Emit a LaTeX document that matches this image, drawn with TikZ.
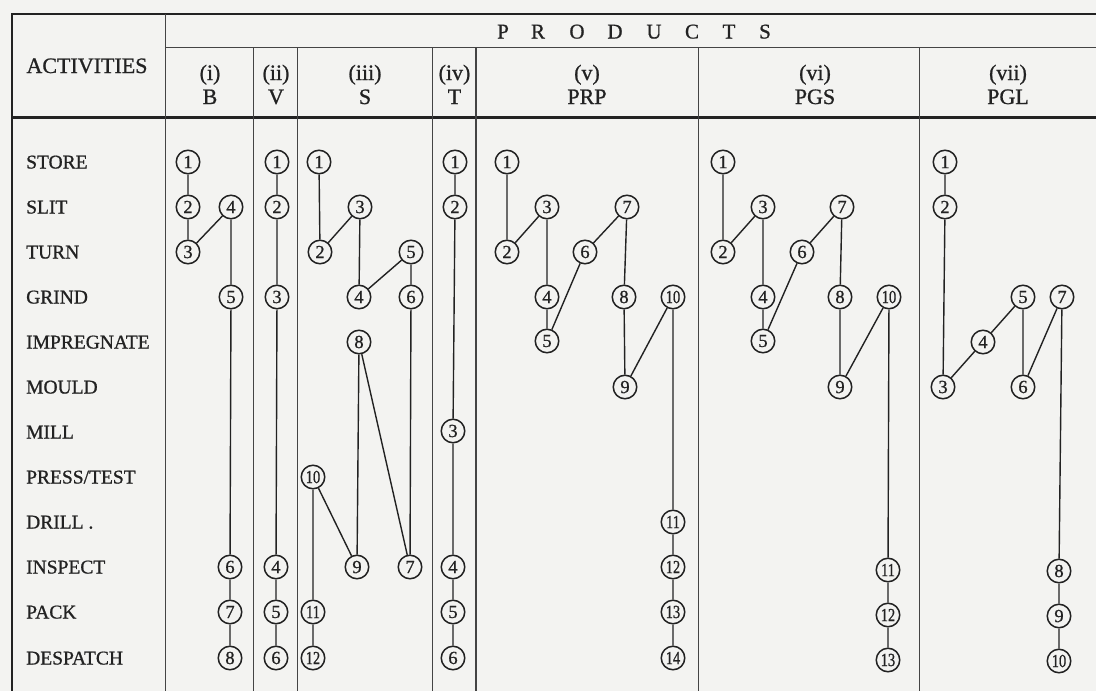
\documentclass[tikz,border=0pt]{standalone}
\usepackage{fontspec}
\usepackage{graphicx}
\setmainfont{Liberation Serif}[BoldFont={Liberation Serif},BoldFeatures={FakeBold=0.9}]
\definecolor{ink}{HTML}{222222}
\definecolor{rulec}{HTML}{444444}
\definecolor{bgc}{HTML}{F3F3F1}
\newcommand\twodig[1]{\scalebox{0.78}[1]{#1}}
\begin{document}
\begin{tikzpicture}[x=1pt,y=-1pt,
  num/.style={circle,draw=ink,line width=1.5pt,inner sep=0pt,minimum size=23.5pt,font=\fontsize{18.5}{18.5}\selectfont\bfseries,text=ink},
  conn/.style={draw=ink,line width=1.4pt},
  rowlab/.style={anchor=base west,font=\fontsize{19.5}{20}\selectfont\bfseries,text=ink,inner sep=0pt},
  hdr/.style={anchor=base,font=\fontsize{22}{23}\selectfont\bfseries,text=ink,inner sep=0pt},
  gridline/.style={draw=rulec,line width=1.3pt},
  thickline/.style={draw=ink,line width=2.4pt}]
\useasboundingbox (0,0) rectangle (1096,691);
\fill[bgc] (0,0) rectangle (1096,691);
% ---- table rules ----
\draw[thickline] (11.7,14) -- (1096,14);
\draw[thickline] (11.7,13) -- (11.7,691);
\draw[gridline,line width=1.6pt] (165.5,47.5) -- (1096,47.5);
\draw[draw=ink,line width=3.2pt] (11.7,117.5) -- (1096,117.5);
\draw[gridline,line width=1.5pt] (165.5,14) -- (165.5,691);
\foreach \cx in {253.5,297.5,432.5,476,698.5,919.5}
  \draw[gridline] (\cx,47.5) -- (\cx,691);
% ---- header ----
\node[anchor=base,font=\fontsize{22}{22}\selectfont\bfseries,text=ink,inner sep=0pt] (act) at (87,73) {ACTIVITIES};
\foreach \ch/\cx in {P/503,R/538,O/577,D/615,U/654,C/692,T/729,S/765}
  \node[hdr,font=\fontsize{21}{21}\selectfont\bfseries] (prod\ch) at (\cx,38.5) {\ch};
\node[hdr] (h1a) at (210,80) {(i)};   \node[hdr] (h1b) at (210,104) {B};
\node[hdr] (h2a) at (276,80) {(ii)};  \node[hdr] (h2b) at (276,104) {V};
\node[hdr] (h3a) at (365,80) {(iii)}; \node[hdr] (h3b) at (365,104) {S};
\node[hdr] (h4a) at (454.5,80) {(iv)}; \node[hdr] (h4b) at (454.5,104) {T};
\node[hdr] (h5a) at (587,80) {(v)};   \node[hdr] (h5b) at (587,104) {PRP};
\node[hdr] (h6a) at (815,80) {(vi)};  \node[hdr] (h6b) at (815,104) {PGS};
\node[hdr] (h7a) at (1008,80) {(vii)}; \node[hdr] (h7b) at (1008,104) {PGL};
% ---- row labels ----
\foreach \lab/\ry [count=\i] in {STORE/162,SLIT/207,TURN/252,GRIND/297,IMPREGNATE/342,MOULD/387,MILL/432,{PRESS/TEST}/477,{DRILL .}/522,INSPECT/567,PACK/612,DESPATCH/658}
  \node[rowlab] (row\i) at (26,\ry+6.5) {\lab};
% ---- (i) B ----
\node[num] (B1) at (188,162) {1};
\node[num] (B2) at (188,207) {2};
\node[num] (B3) at (188,252) {3};
\node[num] (B4) at (231,207) {4};
\node[num] (B5) at (231,297) {5};
\node[num] (B6) at (230,567) {6};
\node[num] (B7) at (230,612) {7};
\node[num] (B8) at (230,658) {8};
\draw[conn] (B1)--(B2) (B2)--(B3) (B3)--(B4) (B4)--(B5) (B5)--(B6) (B6)--(B7) (B7)--(B8);
% ---- (ii) V ----
\node[num] (V1) at (277,162) {1};
\node[num] (V2) at (277,207) {2};
\node[num] (V3) at (277,297) {3};
\node[num] (V4) at (276,567) {4};
\node[num] (V5) at (276,612) {5};
\node[num] (V6) at (276,658) {6};
\draw[conn] (V1)--(V2) (V2)--(V3) (V3)--(V4) (V4)--(V5) (V5)--(V6);
% ---- (iii) S ----
\node[num] (S1) at (319,162) {1};
\node[num] (S2) at (320,252) {2};
\node[num] (S3) at (360,207) {3};
\node[num] (S4) at (359,297) {4};
\node[num] (S5) at (411,252) {5};
\node[num] (S6) at (411,297) {6};
\node[num] (S7) at (410,567) {7};
\node[num] (S8) at (359,342) {8};
\node[num] (S9) at (357,567) {9};
\node[num] (S10) at (313,477) {\twodig{10}};
\node[num] (S11) at (313,612) {\twodig{11}};
\node[num] (S12) at (313,658) {\twodig{12}};
\draw[conn] (S1)--(S2) (S2)--(S3) (S3)--(S4) (S4)--(S5) (S5)--(S6) (S6)--(S7) (S7)--(S8) (S8)--(S9) (S9)--(S10) (S10)--(S11) (S11)--(S12);
% ---- (iv) T ----
\node[num] (T1) at (455,162) {1};
\node[num] (T2) at (455,207) {2};
\node[num] (T3) at (453,431) {3};
\node[num] (T4) at (453,567) {4};
\node[num] (T5) at (453,612) {5};
\node[num] (T6) at (453,658) {6};
\draw[conn] (T1)--(T2) (T2)--(T3) (T3)--(T4) (T4)--(T5) (T5)--(T6);
% ---- (v) PRP ----
\node[num] (P1) at (507,162) {1};
\node[num] (P2) at (507,252) {2};
\node[num] (P3) at (547,207) {3};
\node[num] (P4) at (547,297) {4};
\node[num] (P5) at (547,341) {5};
\node[num] (P6) at (585,252) {6};
\node[num] (P7) at (627,207) {7};
\node[num] (P8) at (624,297) {8};
\node[num] (P9) at (625,387) {9};
\node[num] (P10) at (673,297) {\twodig{10}};
\node[num] (P11) at (673,522) {\twodig{11}};
\node[num] (P12) at (673,567) {\twodig{12}};
\node[num] (P13) at (673,612) {\twodig{13}};
\node[num] (P14) at (673,658) {\twodig{14}};
\draw[conn] (P1)--(P2) (P2)--(P3) (P3)--(P4) (P4)--(P5) (P5)--(P6) (P6)--(P7) (P7)--(P8) (P8)--(P9) (P9)--(P10) (P10)--(P11) (P11)--(P12) (P12)--(P13) (P13)--(P14);
% ---- (vi) PGS ----
\node[num] (G1) at (723,162) {1};
\node[num] (G2) at (723,252) {2};
\node[num] (G3) at (763,207) {3};
\node[num] (G4) at (763,297) {4};
\node[num] (G5) at (763,341) {5};
\node[num] (G6) at (802,252) {6};
\node[num] (G7) at (842,207) {7};
\node[num] (G8) at (840,297) {8};
\node[num] (G9) at (840,387) {9};
\node[num] (G10) at (889,297) {\twodig{10}};
\node[num] (G11) at (888,570) {\twodig{11}};
\node[num] (G12) at (888,615) {\twodig{12}};
\node[num] (G13) at (888,660) {\twodig{13}};
\draw[conn] (G1)--(G2) (G2)--(G3) (G3)--(G4) (G4)--(G5) (G5)--(G6) (G6)--(G7) (G7)--(G8) (G8)--(G9) (G9)--(G10) (G10)--(G11) (G11)--(G12) (G12)--(G13);
% ---- (vii) PGL ----
\node[num] (L1) at (945,162) {1};
\node[num] (L2) at (945,207) {2};
\node[num] (L3) at (943,387) {3};
\node[num] (L4) at (983,342) {4};
\node[num] (L5) at (1023,297) {5};
\node[num] (L6) at (1023,387) {6};
\node[num] (L7) at (1062,297) {7};
\node[num] (L8) at (1059,571) {8};
\node[num] (L9) at (1059,616) {9};
\node[num] (L10) at (1059,661) {\twodig{10}};
\draw[conn] (L1)--(L2) (L2)--(L3) (L3)--(L4) (L4)--(L5) (L5)--(L6) (L6)--(L7) (L7)--(L8) (L8)--(L9) (L9)--(L10);
\end{tikzpicture}
\end{document}
